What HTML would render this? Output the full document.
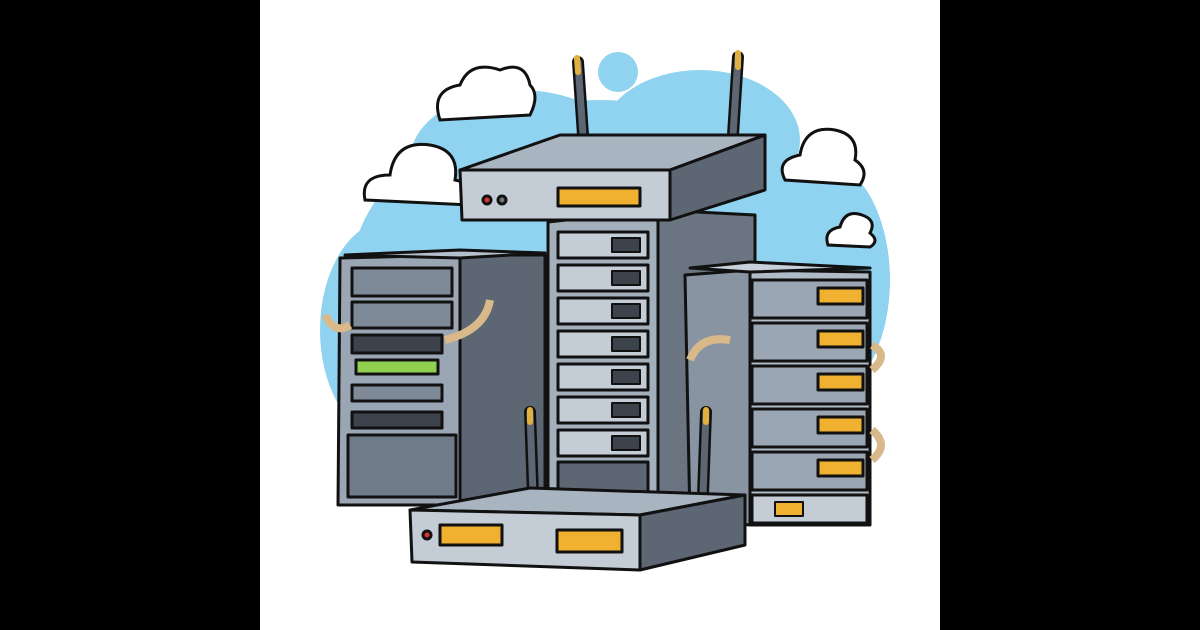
<!DOCTYPE html>
<html><head><meta charset="utf-8"><style>
html,body{margin:0;padding:0;background:#000;}
svg{display:block}
</style></head><body>
<svg width="1200" height="630" viewBox="0 0 1200 630" xmlns="http://www.w3.org/2000/svg">
<rect x="0" y="0" width="1200" height="630" fill="#000"/>
<rect x="260" y="0" width="680" height="630" fill="#fff"/>
<g fill="#8fd3f0">
<ellipse cx="600" cy="280" rx="250" ry="180"/>
<ellipse cx="520" cy="160" rx="110" ry="70"/>
<ellipse cx="700" cy="140" rx="100" ry="70"/>
<ellipse cx="390" cy="330" rx="70" ry="110"/>
<ellipse cx="820" cy="280" rx="70" ry="120"/>
<circle cx="618" cy="72" r="20"/>
<circle cx="640" cy="98" r="10"/>
<circle cx="845" cy="195" r="12"/>
</g>
<g fill="#fff" stroke="#111" stroke-width="3">
<path d="M440 120 q-10-30 20-35 q10-25 40-15 q25-10 30 15 q10 10 0 30 z"/>
<path d="M365 200 q-5-25 25-25 q5-35 40-30 q30 5 25 35 q25 5 15 25 z"/>
<path d="M785 180 q-10-20 15-25 q5-30 35-25 q25 5 20 30 q15 10 5 25 z"/>
<path d="M828 245 q-5-15 12-18 q5-18 22-12 q15 5 8 18 q10 8 0 14 z"/>
</g>
<g stroke="#111" stroke-width="3" stroke-linejoin="round">
<polygon points="460,255 545,255 545,500 460,505" fill="#5d6673"/>
<polygon points="340,258 460,255 460,505 338,505" fill="#9aa6b4"/>
<polygon points="345,255 460,250 545,253 460,258" fill="#b6c0cc"/>
<rect x="352" y="268" width="100" height="28" fill="#7e8a98"/>
<rect x="352" y="302" width="100" height="26" fill="#7e8a98"/>
<rect x="352" y="335" width="90" height="18" fill="#3c434d"/>
<rect x="356" y="360" width="82" height="14" fill="#8fd14f"/>
<rect x="352" y="385" width="90" height="16" fill="#7e8a98"/>
<rect x="352" y="412" width="90" height="16" fill="#3c434d"/>
<rect x="348" y="435" width="108" height="62" fill="#6f7b89"/>
<polygon points="658,210 755,215 755,495 658,500" fill="#6b7481"/>
<polygon points="548,222 658,210 658,500 548,500" fill="#a4afbc"/>
<g fill="#c4ccd6">
<rect x="558" y="232" width="90" height="26"/><rect x="558" y="265" width="90" height="26"/>
<rect x="558" y="298" width="90" height="26"/><rect x="558" y="331" width="90" height="26"/>
<rect x="558" y="364" width="90" height="26"/><rect x="558" y="397" width="90" height="26"/>
<rect x="558" y="430" width="90" height="26"/></g>
<g fill="#3c434d" stroke-width="2">
<rect x="612" y="238" width="28" height="14"/><rect x="612" y="271" width="28" height="14"/>
<rect x="612" y="304" width="28" height="14"/><rect x="612" y="337" width="28" height="14"/>
<rect x="612" y="370" width="28" height="14"/><rect x="612" y="403" width="28" height="14"/>
<rect x="612" y="436" width="28" height="14"/></g>
<rect x="558" y="462" width="90" height="30" fill="#5d6673"/>
<polygon points="685,275 750,270 750,525 690,520" fill="#8994a2"/>
<polygon points="750,270 870,272 870,525 750,525" fill="#b0bbc7"/>
<polygon points="690,268 750,262 870,268 750,272" fill="#c8d0da"/>
<g fill="#9aa6b4">
<rect x="752" y="280" width="115" height="38"/><rect x="752" y="323" width="115" height="38"/>
<rect x="752" y="366" width="115" height="38"/><rect x="752" y="409" width="115" height="38"/>
<rect x="752" y="452" width="115" height="38"/></g>
<rect x="752" y="495" width="115" height="28" fill="#c4ccd6"/>
<g fill="#f0b030"><rect x="818" y="288" width="45" height="16"/><rect x="818" y="331" width="45" height="16"/><rect x="818" y="374" width="45" height="16"/><rect x="818" y="417" width="45" height="16"/><rect x="818" y="460" width="45" height="16"/></g>
<rect x="775" y="502" width="28" height="14" fill="#f0b030" stroke-width="2"/>
<g fill="none" stroke="#d9b98a" stroke-width="8">
<path d="M445 340 q40-10 45-40"/>
<path d="M690 360 q10-25 40-20"/>
<path d="M325 315 q10 20 25 10"/>
<path d="M872 345 q18 10 0 25"/>
<path d="M872 430 q18 15 0 30"/>
</g>
<g stroke-linecap="round">
<line x1="578" y1="62" x2="583" y2="135" stroke-width="12" stroke="#111"/>
<line x1="578" y1="62" x2="583" y2="135" stroke-width="7" stroke="#5d6673"/>
<line x1="738" y1="57" x2="733" y2="135" stroke-width="12" stroke="#111"/>
<line x1="738" y1="57" x2="733" y2="135" stroke-width="7" stroke="#5d6673"/>
<line x1="577" y1="58" x2="578" y2="72" stroke-width="6" stroke="#e0b040"/>
<line x1="738" y1="53" x2="738" y2="67" stroke-width="6" stroke="#e0b040"/>
</g>
<polygon points="460,170 560,135 765,135 670,170" fill="#a9b4c1"/>
<polygon points="670,170 765,135 765,190 670,220" fill="#5d6673"/>
<polygon points="460,170 670,170 670,220 462,220" fill="#c4ccd6"/>
<rect x="558" y="188" width="82" height="18" fill="#f0b030"/>
<circle cx="487" cy="200" r="4" fill="#d33"/>
<circle cx="502" cy="200" r="4" fill="#777"/>
<g stroke-linecap="round">
<line x1="530" y1="412" x2="533" y2="495" stroke-width="12" stroke="#111"/>
<line x1="530" y1="412" x2="533" y2="495" stroke-width="7" stroke="#5d6673"/>
<line x1="706" y1="412" x2="703" y2="495" stroke-width="12" stroke="#111"/>
<line x1="706" y1="412" x2="703" y2="495" stroke-width="7" stroke="#5d6673"/>
<line x1="530" y1="410" x2="530" y2="422" stroke-width="6" stroke="#e0b040"/>
<line x1="706" y1="410" x2="706" y2="422" stroke-width="6" stroke="#e0b040"/>
</g>
<polygon points="410,510 530,488 745,495 640,515" fill="#a9b4c1"/>
<polygon points="640,515 745,495 745,545 640,570" fill="#5d6673"/>
<polygon points="410,510 640,515 640,570 412,562" fill="#c4ccd6"/>
<rect x="440" y="525" width="62" height="20" fill="#f0b030"/>
<rect x="557" y="530" width="65" height="22" fill="#f0b030"/>
<circle cx="427" cy="535" r="4" fill="#d33"/>
</g>
</svg>
</body></html>
